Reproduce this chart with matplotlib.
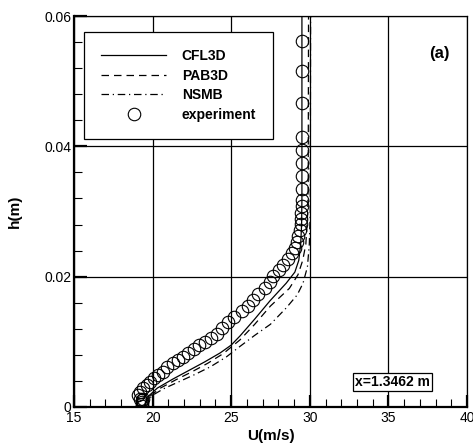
import matplotlib
matplotlib.use("Agg")
from matplotlib import pyplot as plt
from matplotlib.ticker import MultipleLocator

plt.rcParams['font.family'] = ['Liberation Sans', 'DejaVu Sans']

# experiment (U in m/s, h in m)
exp_u = [19.35, 19.3, 19.3, 19.35, 19.4, 19.2, 19.09, 19.2, 19.41, 19.62, 19.84,
         20.11, 20.36, 20.64, 20.90, 21.28, 21.63, 21.95, 22.27, 22.65, 22.97,
         23.33, 23.72, 24.08, 24.40, 24.78, 25.2, 25.67, 26.09, 26.41, 26.72,
         27.15, 27.47, 27.68, 28.06, 28.31, 28.63, 28.85, 29.06, 29.16, 29.27,
         29.38, 29.44, 29.45, 29.47, 29.48, 29.5, 29.5, 29.5, 29.5, 29.5, 29.5,
         29.5, 29.5, 29.5]
exp_h = [0.0002, 0.0004, 0.0007, 0.0010, 0.0013, 0.0013, 0.00185, 0.00236,
         0.00287, 0.00338, 0.0039, 0.00441, 0.00492, 0.00543, 0.00611, 0.00672,
         0.00723, 0.00774, 0.00826, 0.00887, 0.00954, 0.01005, 0.01056, 0.01123,
         0.0121, 0.01297, 0.0138, 0.01466, 0.01554, 0.01646, 0.01738, 0.01826,
         0.01912, 0.02005, 0.02097, 0.02185, 0.02272, 0.02365, 0.02442, 0.02528,
         0.0262, 0.02723, 0.02815, 0.0288, 0.0298, 0.0308, 0.0318, 0.0335,
         0.0354, 0.0375, 0.0394, 0.0415, 0.0466, 0.0515, 0.0562]

# CFL3D
cfl_u = [19.5, 19.55, 19.8, 20.3, 21.3, 22.3, 23.3, 24.3, 25.0, 25.56, 26.5,
         27.47, 28.5, 29.05, 29.3, 29.42, 29.48, 29.5, 29.5]
cfl_h = [0.0, 0.0008, 0.0018, 0.0029, 0.0043, 0.0056, 0.0069, 0.0083, 0.0095,
         0.0109, 0.0135, 0.0163, 0.019, 0.0207, 0.0225, 0.025, 0.028, 0.032, 0.06]

# PAB3D
pab_u = [19.5, 19.6, 19.9, 20.5, 21.5, 22.5, 23.5, 24.5, 25.56, 26.5, 27.5,
         28.7, 29.25, 29.55, 29.75, 29.87, 29.9, 29.92]
pab_h = [0.0, 0.0008, 0.0018, 0.0029, 0.0042, 0.0054, 0.0067, 0.0082, 0.0103,
         0.0127, 0.0155, 0.0182, 0.0203, 0.0225, 0.025, 0.03, 0.035, 0.06]

# NSMB
nsmb_u = [19.5, 19.6, 20.0, 20.7, 21.7, 22.7, 23.7, 24.7, 25.56, 26.5, 27.5,
          28.5, 29.2, 29.57, 29.85, 29.97, 30.03, 30.05]
nsmb_h = [0.0, 0.0008, 0.0018, 0.0028, 0.0039, 0.005, 0.0062, 0.0077, 0.0093,
          0.011, 0.0127, 0.0152, 0.0172, 0.019, 0.0215, 0.025, 0.03, 0.06]

fig = plt.figure(figsize=(4.73, 4.45), dpi=100)
ax = fig.add_axes([0.1564, 0.0854, 0.8309, 0.8786])

ax.plot(cfl_u, cfl_h, '-', color='black', lw=0.9, label='CFL3D')
ax.plot(pab_u, pab_h, '--', color='black', lw=0.9, dashes=(6, 4), label='PAB3D')
ax.plot(nsmb_u, nsmb_h, '-.', color='black', lw=0.9, dashes=(6, 3, 1, 3), label='NSMB')
ax.plot(exp_u, exp_h, 'o', mfc='none', mec='black', mew=0.8, ms=9,
        label='experiment')

ax.set_xlim(15, 40)
ax.set_ylim(0, 0.06)
ax.xaxis.set_major_locator(MultipleLocator(5))
ax.xaxis.set_minor_locator(MultipleLocator(1))
ax.yaxis.set_major_locator(MultipleLocator(0.02))
ax.yaxis.set_minor_locator(MultipleLocator(0.004))
ax.xaxis.set_major_formatter(plt.FuncFormatter(lambda v, p: '%d' % v))
ax.yaxis.set_major_formatter(plt.FuncFormatter(lambda v, p: '0' if v == 0 else '%.2f' % v))
ax.tick_params(which='both', direction='in', top=False, right=False, labelsize=10,
               color='black', pad=2)
ax.tick_params(which='major', length=9, width=1.6)
ax.tick_params(which='minor', length=6, width=0.8)
ax.tick_params(axis='x', which='major', pad=3)
ax.grid(which='major', color='black', lw=0.9)
ax.set_axisbelow(False)
for side in ['left', 'bottom']:
    ax.spines[side].set_linewidth(1.6)
for side in ['top', 'right']:
    ax.spines[side].set_linewidth(0.9)

ax.set_xlabel('U(m/s)', fontsize=11, fontweight='bold', labelpad=3)
ax.set_ylabel('h(m)', fontsize=11, fontweight='bold', labelpad=16)

leg = ax.legend(loc='upper left', bbox_to_anchor=(0.025, 0.96), fancybox=False,
                edgecolor='black', framealpha=1, handlelength=4.7, borderpad=1.25,
                labelspacing=0.4, handletextpad=1.1, borderaxespad=0,
                prop={'weight': 'bold', 'size': 10})
leg.get_frame().set_linewidth(0.9)

ax.text(0.93, 0.905, '(a)', transform=ax.transAxes, fontsize=12,
        fontweight='bold', ha='center', va='center')
ax.text(0.81, 0.064, 'x=1.3462 m', transform=ax.transAxes, fontsize=10,
        fontweight='bold', ha='center', va='center',
        bbox=dict(boxstyle='square,pad=0.15', fc='white', ec='black', lw=0.9))

plt.savefig('out.png', dpi=100)
